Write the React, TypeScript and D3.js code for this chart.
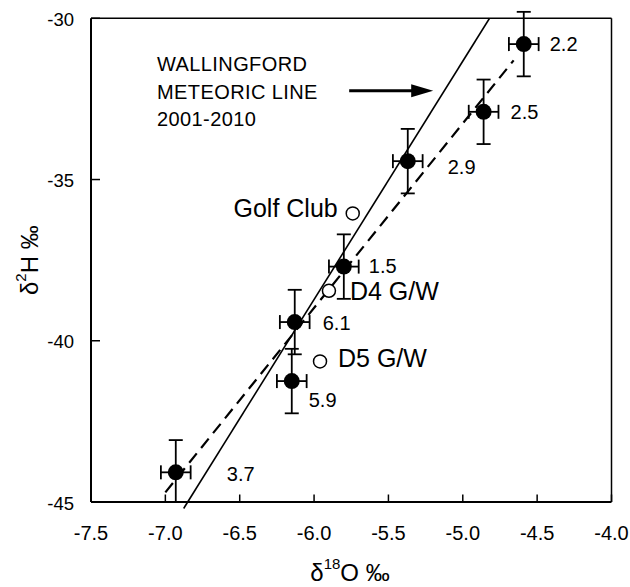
import * as d3 from "d3";

// Filled points (sampled waters) with labels
const sampleX = [-4.59, -4.86, -5.37, -5.8, -6.13, -6.15, -6.93];
const sampleY = [-30.8, -32.9, -34.43, -37.7, -39.42, -41.25, -44.08];
const sampleLabels = ["2.2", "2.5", "2.9", "1.5", "6.1", "5.9", "3.7"];
const errX = 0.1;
const errY = 1.0;

// Open points (ground water, golf club)
const openX = [-5.74, -5.9, -5.96];
const openY = [-36.05, -38.45, -40.64];
const openLabels = ["Golf Club", "D4 G/W", "D5 G/W"];

// Lines: Wallingford meteoric line (solid) and fitted line (dashed)
const mwlSlope = 7.39;
const mwlIntercept = 5.62;
const mwlRange = [-6.877, -4.82];
const fitSlope = 5.72;
const fitIntercept = -4.66;
const fitRange = [-7.0, -4.658];

const xTicks = [-7.5, -7.0, -6.5, -6.0, -5.5, -5.0, -4.5, -4.0];
const yTicks = [-45, -40, -35, -30];

const noteLines = ["WALLINGFORD", "METEORIC LINE", "2001-2010"];
const noteY = [-31.43, -32.29, -33.11];

// label placement (pixels relative to point)
const sampleOffsets = [
  [26, 0],
  [27, 0],
  [40, 6],
  [25, -1],
  [28, 1],
  [17, 19],
  [51, 2],
];
const openOffsets = [
  [-15, -5, "end"],
  [21, 0, "start"],
  [18, -3, "start"],
];

const W = 630;
const H = 587;
const m = { top: 18.3, right: 18.5, bottom: 85, left: 91 };
const font = "'Liberation Sans', Arial, sans-serif";

export default function App() {
  const x = d3.scaleLinear().domain([-7.5, -4.0]).range([m.left, W - m.right]);
  const y = d3.scaleLinear().domain([-45, -30]).range([H - m.bottom, m.top]);
  const x0 = m.left;
  const x1 = W - m.right;
  const y0 = H - m.bottom;
  const y1 = m.top;

  const mwl = d3.line<number>().x((d) => x(d)).y((d) => y(mwlSlope * d + mwlIntercept));
  const fit = d3.line<number>().x((d) => x(d)).y((d) => y(fitSlope * d + fitIntercept));

  const cap = 7;
  const arrowY = y(-32.25);
  const arrowX0 = x(-5.764);
  const arrowX1 = x(-5.199);

  return (
    <div style={{ position: "fixed", left: 0, top: 0 }}>
      <svg width={W} height={H} style={{ display: "block", background: "#fff" }} fontFamily={font}>
        <defs>
          {/* only the bottom axis cuts the bars; the top ones may stick out */}
          <clipPath id="plot">
            <rect x={0} y={0} width={W} height={y0} />
          </clipPath>
        </defs>

        {/* frame */}
        <line x1={x0} x2={x1} y1={y1} y2={y1} stroke="#000" strokeWidth={1.5} />
        <line x1={x1} x2={x1} y1={y1} y2={y0} stroke="#000" strokeWidth={1.5} />
        <line x1={x0} x2={x0} y1={y1} y2={y0} stroke="#000" strokeWidth={2} />
        <line x1={x0} x2={x1} y1={y0} y2={y0} stroke="#000" strokeWidth={2} />

        {/* ticks */}
        {xTicks.map((t) => (
          <g key={"x" + t}>
            <line x1={x(t)} x2={x(t)} y1={y0} y2={y0 - 7.5} stroke="#000" strokeWidth={1.5} />
            <text x={x(t)} y={y0 + 31} textAnchor="middle" dominantBaseline="central" fontSize={20}>
              {t.toFixed(1)}
            </text>
          </g>
        ))}
        {yTicks.map((t) => (
          <g key={"y" + t}>
            <line x1={x0} x2={x0 + 9} y1={y(t)} y2={y(t)} stroke="#000" strokeWidth={1.5} />
            <text x={74} y={y(t) + 1} textAnchor="end" dominantBaseline="central" fontSize={18.5}>
              {t}
            </text>
          </g>
        ))}

        {/* axis titles */}
        <text x={350} y={572} textAnchor="middle" dominantBaseline="central" fontSize={24}>
          δ<tspan fontSize={15} dy={-9}>18</tspan>
          <tspan dy={9}>O ‰</tspan>
        </text>
        <text
          transform={`translate(29,${(y0 + y1) / 2}) rotate(-90)`}
          textAnchor="middle"
          dominantBaseline="central"
          fontSize={24}
        >
          δ<tspan fontSize={15} dy={-9}>2</tspan>
          <tspan dy={9}>H ‰</tspan>
        </text>

        {/* lines */}
        <path d={mwl(mwlRange) ?? ""} fill="none" stroke="#000" strokeWidth={1.6} />
        <path d={fit(fitRange) ?? ""} fill="none" stroke="#000" strokeWidth={2.2} strokeDasharray="12 7" />

        {/* error bars */}
        <g clipPath="url(#plot)" stroke="#000" strokeWidth={1.8}>
          {sampleX.map((vx, i) => {
            const cx = x(vx);
            const cy = y(sampleY[i]);
            const ya = y(sampleY[i] + errY);
            const yb = y(sampleY[i] - errY);
            const xa = x(vx - errX);
            const xb = x(vx + errX);
            return (
              <g key={"e" + i}>
                <line x1={cx} x2={cx} y1={ya} y2={yb} />
                <line x1={cx - cap} x2={cx + cap} y1={ya} y2={ya} />
                <line x1={cx - cap} x2={cx + cap} y1={yb} y2={yb} />
                <line x1={xa} x2={xb} y1={cy} y2={cy} />
                <line x1={xa} x2={xa} y1={cy - cap} y2={cy + cap} />
                <line x1={xb} x2={xb} y1={cy - cap} y2={cy + cap} />
              </g>
            );
          })}
        </g>

        {/* filled points */}
        {sampleX.map((vx, i) => (
          <g key={"p" + i}>
            <circle cx={x(vx)} cy={y(sampleY[i])} r={8} fill="#000" />
            <text
              x={x(vx) + sampleOffsets[i][0]}
              y={y(sampleY[i]) + sampleOffsets[i][1]}
              dominantBaseline="central"
              fontSize={20}
            >
              {sampleLabels[i]}
            </text>
          </g>
        ))}

        {/* open points */}
        {openX.map((vx, i) => (
          <g key={"o" + i}>
            <circle cx={x(vx)} cy={y(openY[i])} r={6.5} fill="#fff" stroke="#000" strokeWidth={1.5} />
            <text
              x={x(vx) + (openOffsets[i][0] as number)}
              y={y(openY[i]) + (openOffsets[i][1] as number)}
              textAnchor={openOffsets[i][2] as string}
              dominantBaseline="central"
              fontSize={25}
            >
              {openLabels[i]}
            </text>
          </g>
        ))}

        {/* annotation */}
        {noteLines.map((s, i) => (
          <text key={s} x={x(-7.056)} y={y(noteY[i])} dominantBaseline="central" fontSize={20} letterSpacing={0.4}>
            {s}
          </text>
        ))}
        <line x1={arrowX0} x2={arrowX1 - 18} y1={arrowY} y2={arrowY} stroke="#000" strokeWidth={3} />
        <path
          d={`M${arrowX1},${arrowY} L${arrowX1 - 22},${arrowY - 6.5} L${arrowX1 - 22},${arrowY + 6.5} Z`}
          fill="#000"
        />
      </svg>
    </div>
  );
}
